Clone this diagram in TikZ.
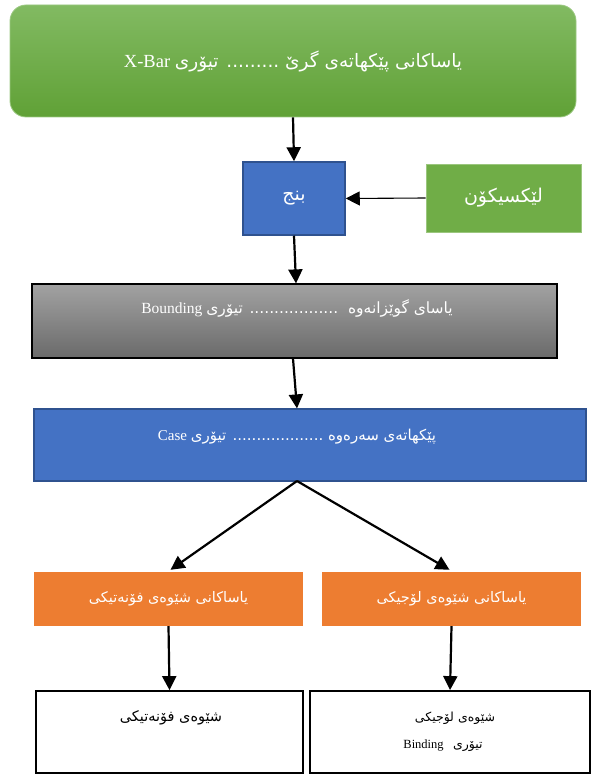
\documentclass[tikz,border=0pt]{standalone}
\usepackage{fontspec}
\setmainfont{Liberation Serif}
\newfontfamily\ar[Script=Arabic]{DejaVu Sans}
\TeXXeTstate=1
\usetikzlibrary{arrows.meta,calc}
\definecolor{gtop}{HTML}{82BA62}
\definecolor{gbot}{HTML}{60A136}
\definecolor{lexg}{HTML}{70AD47}
\definecolor{blu}{HTML}{4472C4}
\definecolor{blub}{HTML}{2F528F}
\definecolor{grtop}{HTML}{A2A2A2}
\definecolor{grbot}{HTML}{6A6A6A}
\definecolor{orn}{HTML}{ED7D31}
\tikzset{
  box/.style={rectangle,inner sep=0pt,text=white,align=center},
  arr/.style={line width=2.2pt,-{Triangle[width=14pt,length=14pt]}},
  thinarr/.style={line width=1.1pt,-{Triangle[width=14pt,length=14pt]}},
  lbl/.style={text=white,inner sep=0pt,align=center},
  blbl/.style={text=black,inner sep=0pt,align=center}
}
\begin{document}
\begin{tikzpicture}[x=1pt,y=-1pt]
\useasboundingbox (0,0) rectangle (595,775);
% top green
\node (top) [box,rounded corners=16pt,top color=gtop,bottom color=gbot,draw=gtop!80!white,line width=0.8pt,
  minimum width=566pt,minimum height=112pt] at (293,61)
  {\fontsize{18.5}{22}\selectfont\beginR{\ar یاساکانی پێکهاتەی گرێ ......... تیۆری} \beginL X-Bar\endL\endR};
% bunch
\node (bunch) [box,fill=blu,draw=blub,line width=1.5pt,minimum width=102pt,minimum height=73pt] at (294,198.5)
  {\fontsize{19}{22}\selectfont\ar\beginR بنج\endR};
% lexicon
\node (lex) [box,fill=lexg,draw=lexg!70!white,line width=0.6pt,minimum width=155pt,minimum height=68pt] at (503.5,198)
  {\fontsize{19}{22}\selectfont\ar\beginR لێکسیکۆن\endR};
% gray
\node (gray) [box,top color=grtop,bottom color=grbot,draw=black,line width=1.2pt,minimum width=525pt,minimum height=74pt] at (294.5,321) {};
\node (graytxt) [lbl,font=\fontsize{15.5}{18}\selectfont] at (297,308)
  {\beginR{\ar یاسای گوێزانەوە \ .................. تیۆری} \beginL Bounding\endL\endR};
% blue big
\node (case) [box,fill=blu,draw=blub,line width=1.2pt,minimum width=552pt,minimum height=72pt] at (310,445) {};
\node (casetxt) [lbl,font=\fontsize{15}{18}\selectfont] at (297,437)
  {\beginR{\ar پێکهاتەی سەرەوە ................... تیۆری} \beginL Case\endL\endR};
% oranges
\node (oL) [box,fill=orn,minimum width=269pt,minimum height=54pt] at (168.5,599)
  {\fontsize{14.5}{17}\selectfont\ar\beginR یاساکانی شێوەی فۆنەتیکی\endR};
\node (oR) [box,fill=orn,minimum width=259pt,minimum height=54pt] at (451.5,599)
  {\fontsize{14.5}{17}\selectfont\ar\beginR یاساکانی شێوەی لۆجیکی\endR};
% whites
\node (wL) [box,draw=black,line width=1.8pt,minimum width=267pt,minimum height=82pt] at (169.5,732) {};
\node (wLtxt) [blbl,font=\fontsize{14.5}{17}\selectfont\ar] at (171,718) {\beginR شێوەی فۆنەتیکی\endR};
\node (wR) [box,draw=black,line width=1.8pt,minimum width=280pt,minimum height=82pt] at (450,732) {};
\node (wRtxt1) [blbl,font=\fontsize{12.5}{15}\selectfont\ar] at (455,718) {\beginR شێوەی لۆجیکی\endR};
\node (wRtxt2) [blbl,font=\fontsize{12.5}{15}\selectfont] at (443,746)
  {\beginR{\ar تیۆری}\ \ \ \beginL Binding\endL\endR};
% connectors
\coordinate (split) at (297,481);
\draw[arr] (top.south) -- (bunch.north);
\draw[thinarr] (lex.west) -- (bunch.east);
\draw[arr] (bunch.south) -- ($(gray.north)+(1.5,0)$);
\draw[arr] ($(gray.south)+(-1.5,0)$) -- ($(case.north)+(-13,0)$);
\draw[arr] (split) -- ($(oL.north)+(2,-2)$);
\draw[arr] (split) -- ($(oR.north)+(-2,-2)$);
\draw[arr] (oL.south) -- (wL.north);
\draw[arr] (oR.south) -- (wR.north);
\end{tikzpicture}
\end{document}
